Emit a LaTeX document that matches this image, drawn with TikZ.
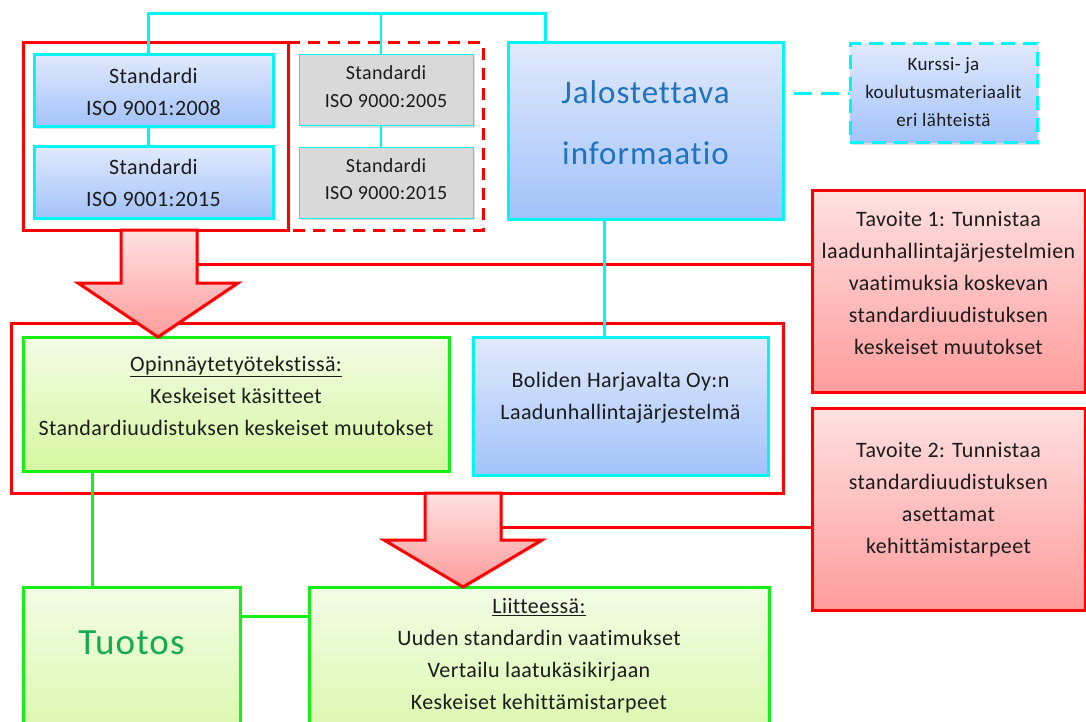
\documentclass[tikz,border=0pt]{standalone}
\usepackage{fontspec}
\setmainfont{Carlito}[Ligatures=NoCommon,LetterSpace=1.8]
\newfontfamily\headfont{Carlito}[Ligatures=NoCommon,LetterSpace=3]
\usetikzlibrary{shadows,calc}

\definecolor{lnCyan}{RGB}{0,245,245}
\definecolor{lnGreen}{RGB}{20,240,20}
\definecolor{lnRed}{RGB}{255,0,0}
\definecolor{blueTop}{RGB}{224,233,252}
\definecolor{blueBot}{RGB}{162,194,250}
\definecolor{greenTop}{RGB}{243,252,230}
\definecolor{greenBot}{RGB}{213,247,160}
\definecolor{redTop}{RGB}{255,224,224}
\definecolor{redBot}{RGB}{255,156,156}
\definecolor{grayFill}{RGB}{217,217,217}
\definecolor{txtCol}{RGB}{28,28,28}
\definecolor{jaloBlue}{RGB}{30,115,190}
\definecolor{tuotosGreen}{RGB}{20,170,80}

\begin{document}
\begin{tikzpicture}[x=1pt,y=-1pt,
  softshadow/.style={drop shadow={shadow xshift=2pt,shadow yshift=-2pt,opacity=0.13,fill=black}},
  bluebox/.style={draw=lnCyan,line width=3pt,top color=blueTop,bottom color=blueBot,softshadow,inner sep=0pt},
  kurssibox/.style={draw=lnCyan,line width=3pt,dash pattern=on 14pt off 8pt,top color=blueTop,bottom color=blueBot,softshadow,inner sep=0pt},
  graybox/.style={draw=lnCyan,line width=1pt,fill=grayFill,softshadow,inner sep=0pt},
  greenbox/.style={draw=lnGreen,line width=3pt,top color=greenTop,bottom color=greenBot,softshadow,inner sep=0pt},
  goalbox/.style={draw=lnRed,line width=3pt,top color=redTop,bottom color=redBot,softshadow,inner sep=0pt},
  frame/.style={draw=lnRed,line width=3pt},
  bigarrow/.style={draw=lnRed,line width=3pt,line join=miter,top color=redTop,bottom color=redBot,softshadow},
  cyanthick/.style={draw=lnCyan,line width=3pt},
  cyanthin/.style={draw=lnCyan,line width=1.5pt},
  greenline/.style={draw=lnGreen,line width=3pt},
  redline/.style={draw=lnRed,line width=3pt},
  txt/.style={align=center,text=txtCol,inner sep=0pt,font=\fontsize{22}{32}\selectfont},
  smalltxt/.style={align=center,text=txtCol,inner sep=0pt,font=\fontsize{20}{27.5}\selectfont},
]
\useasboundingbox (0,0) rectangle (1086,722);
\clip (0,0) rectangle (1086,722);

% source standards
\node[bluebox,minimum width=239pt,minimum height=72pt] (std1) at (153.5,91) {};
\node[bluebox,minimum width=239pt,minimum height=71pt] (std2) at (153.5,182.5) {};
\node[txt] (std1t) at (153.5,91.5) {Standardi\\ISO 9001:2008};
\node[txt] (std2t) at (153.5,183) {Standardi\\ISO 9001:2015};

\node[graybox,minimum width=174pt,minimum height=71pt] (grey1) at (386,90.5) {};
\node[graybox,minimum width=174pt,minimum height=70pt] (grey2) at (386,183) {};
\node[smalltxt] (grey1t) at (386,86.5) {Standardi\\ISO 9000:2005};
\node[smalltxt] (grey2t) at (386,179) {Standardi\\ISO 9000:2015};

% information to refine
\node[bluebox,minimum width=275pt,minimum height=176pt] (jalo) at (645.5,131) {};
\node[align=center,inner sep=0pt,text=jaloBlue,font=\headfont\fontsize{33}{61}\selectfont] (jalot) at (645.5,122.5) {Jalostettava\\informaatio};

\node[kurssibox,minimum width=187pt,minimum height=99pt] (kurssi) at (943.5,93.5) {};
\node[align=center,inner sep=0pt,text=txtCol,font=\fontsize{19}{28}\selectfont] (kurssit) at (943.5,92) {Kurssi- ja\\koulutusmateriaalit\\eri lähteistä};

% goals
\node[goalbox,minimum width=273pt,minimum height=201pt] (tav1) at (948.5,291.5) {};
\node[txt] (tav1t) at (948.5,283) {Tavoite 1: Tunnistaa\\laadunhallintajärjestelmien\\vaatimuksia koskevan\\standardiuudistuksen\\keskeiset muutokset};
\node[goalbox,minimum width=273pt,minimum height=202pt] (tav2) at (948.5,509) {};
\node[txt] (tav2t) at (948.5,500) {Tavoite 2: Tunnistaa\\standardiuudistuksen\\asettamat\\kehittämistarpeet};

% middle level
\node[greenbox,minimum width=426pt,minimum height=134pt] (opin) at (236,404) {};
\node[txt] (opint) at (236,396) {\underline{Opinnäytetyötekstissä:}\\Keskeiset käsitteet\\Standardiuudistuksen keskeiset muutokset};
\node[bluebox,minimum width=295pt,minimum height=138pt] (boliden) at (620.5,406) {};
\node[txt] (bolident) at (620.5,398) {Boliden Harjavalta Oy:n\\Laadunhallintajärjestelmä};

% output level
\node[greenbox,minimum width=217pt,minimum height=180pt] (tuotos) at (131.5,677) {};
\node[inner sep=0pt,text=tuotosGreen,font=\headfont\fontsize{37}{40}\selectfont] (tuotost) at (131.5,643) {Tuotos};
\node[greenbox,minimum width=460pt,minimum height=180pt] (liite) at (539,677) {};
\node[txt] (liitet) at (539,656) {\underline{Liitteessä:}\\Uuden standardin vaatimukset\\Vertailu laatukäsikirjaan\\Keskeiset kehittämistarpeet};

% grouping frames
\draw[frame] (23,43) rectangle (288,230);
\draw[frame,dash pattern=on 12pt off 8pt] (288,43) -- (483,43) -- (483,230) -- (288,230);
\draw[frame] (11,323) rectangle (783,493);

% block arrows
\coordinate (arr1r) at (197,264);
\coordinate (arr2r) at (501,527);
\draw[bigarrow] (121,230) -- (197,230) -- (197,283) -- (238,283) -- (158,337) -- (78,283) -- (121,283) -- cycle;
\draw[bigarrow] (425,493) -- (501,493) -- (501,540) -- (542,540) -- (463,587) -- (384,540) -- (425,540) -- cycle;

% connectors
\draw[redline] (arr1r) -- (arr1r -| tav1.west);
\draw[redline] (arr2r) -- (arr2r -| tav2.west);
\draw[cyanthick] ([xshift=-5pt]std1.north) |- ([xshift=-100.5pt,yshift=28pt]jalo.north) -- ([xshift=-100.5pt]jalo.north);
\draw[cyanthin] ([xshift=-5pt]grey1.north) -- ++(0,-40);
\draw[cyanthick] ([xshift=-5pt]std1.south) -- ([xshift=-5pt]std2.north);
\draw[cyanthin] ([xshift=-5pt]grey1.south) -- ([xshift=-5pt]grey2.north);
\draw[cyanthick,dash pattern=on 18pt off 9pt,dash phase=18pt] (kurssi.west -| jalo.east) -- (kurssi.west);
\draw[cyanthick] ([xshift=-41.5pt]jalo.south) -- ([xshift=-41.5pt]jalo.south |- boliden.north);
\draw[greenline] ([xshift=-144pt]opin.south) -- ([xshift=-144pt]opin.south |- tuotos.north);
\draw[greenline] ([yshift=-31pt]tuotos.north east) -- ([yshift=-31pt]liite.north west);
\end{tikzpicture}
\end{document}
